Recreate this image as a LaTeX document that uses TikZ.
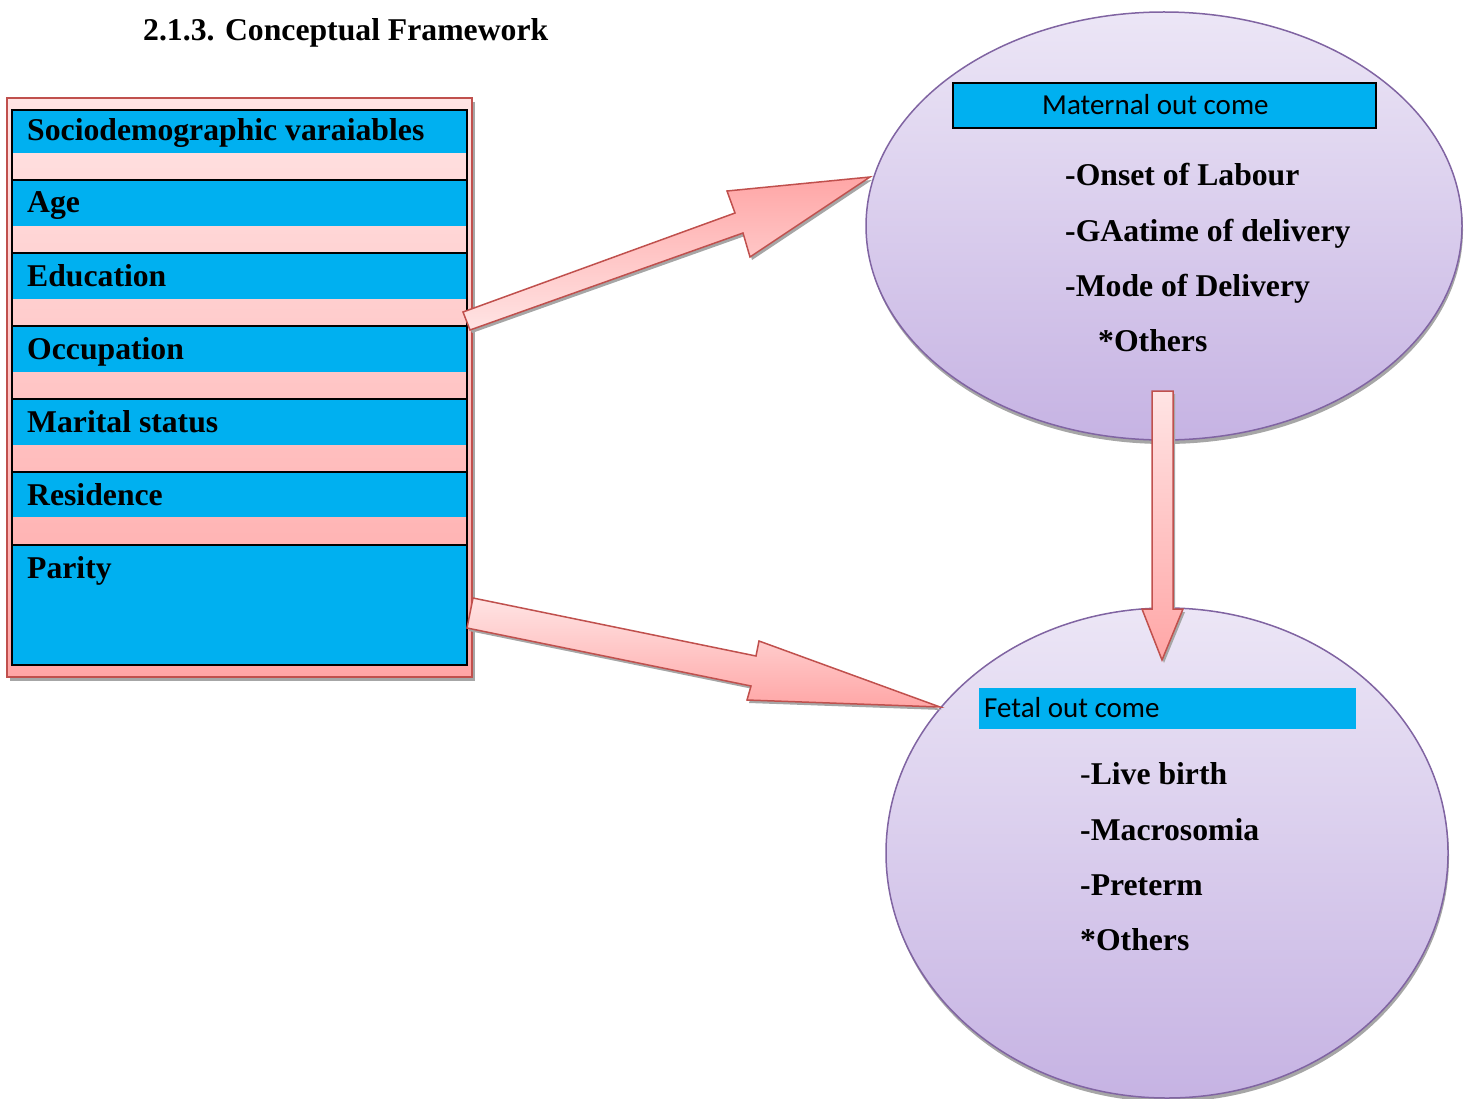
\documentclass[tikz,border=0pt]{standalone}
\usepackage{fontspec}
\setmainfont{Liberation Serif}
\newfontfamily\calfont{Carlito}
\usetikzlibrary{shapes.geometric}
\definecolor{sky}{HTML}{00B0F0}
\definecolor{redline}{HTML}{C0504D}
\definecolor{purpline}{HTML}{8064A2}
\definecolor{pinklight}{HTML}{FFE4E4}
\definecolor{pinkdark}{HTML}{FFA6A6}
\definecolor{lavlight}{HTML}{ECE6F6}
\definecolor{lavdark}{HTML}{C6B3E3}
\definecolor{shadowgray}{HTML}{A6A6A6}
\tikzset{
  lbl/.style={font=\fontsize{31.7}{38}\selectfont\bfseries, inner sep=0pt},
  clbl/.style={font=\calfont\fontsize{29}{34}\selectfont, inner sep=0pt},
  ell/.style={ellipse, draw=purpline, line width=1.5pt, top color=lavlight, bottom color=lavdark, inner sep=0pt},
  ellshadow/.style={ellipse, fill=shadowgray, inner sep=0pt},
  blockrow/.style={draw=black, line width=2.2pt},
  bluebar/.style={fill=sky},
  barrow/.style={draw=redline, line width=1.5pt, line join=miter},
  ashadow/.style={fill=shadowgray}
}
\begin{document}
\begin{tikzpicture}[x=1pt,y=-1pt]
\useasboundingbox (0,0) rectangle (1471,1099);

% title
\node[lbl, anchor=base west] (title) at (143,41) {2.1.3. Conceptual Framework};

% ---------- left panel ----------
\fill[shadowgray] (10,102) rectangle (475,681);
\shade[top color=pinklight, bottom color=pinkdark] (7,98) rectangle (472,677);
\draw[redline, line width=2pt] (7,98) rectangle (472,677);
\node[inner sep=0pt, minimum width=465pt, minimum height=579pt, anchor=north west] (panel) at (7,98) {};

\fill[bluebar] (12,110) rectangle (467,153);
\fill[bluebar] (12,180) rectangle (467,226);
\fill[bluebar] (12,253) rectangle (467,299);
\fill[bluebar] (12,326) rectangle (467,372);
\fill[bluebar] (12,399) rectangle (467,445);
\fill[bluebar] (12,472) rectangle (467,517);
\fill[bluebar] (12,545) rectangle (467,665);
\draw[blockrow] (12,110) rectangle (467,180);
\draw[blockrow] (12,180) rectangle (467,253);
\draw[blockrow] (12,253) rectangle (467,326);
\draw[blockrow] (12,326) rectangle (467,399);
\draw[blockrow] (12,399) rectangle (467,472);
\draw[blockrow] (12,472) rectangle (467,545);
\draw[blockrow] (12,545) rectangle (467,665);

\node[lbl, anchor=base west] (socio) at (27,141) {Sociodemographic varaiables};
\node[lbl, anchor=base west] (age) at (27,213) {Age};
\node[lbl, anchor=base west] (edu) at (27,286) {Education};
\node[lbl, anchor=base west] (occ) at (27,359) {Occupation};
\node[lbl, anchor=base west] (mar) at (27,432) {Marital status};
\node[lbl, anchor=base west] (res) at (27,505) {Residence};
\node[lbl, anchor=base west] (par) at (27,578) {Parity};

% ---------- maternal ellipse ----------
\node[ellshadow, minimum width=596pt, minimum height=428pt] at (1165,230) {};
\node[ell, minimum width=596pt, minimum height=428pt] (mat) at (1164,226) {};
\draw[fill=sky, draw=black, line width=2pt] (953,83) rectangle (1376,128);
\node[clbl, anchor=base west] (matt) at (1042,115) {Maternal out come};
\node[lbl, anchor=base west] (m1) at (1065,186) {-Onset of Labour};
\node[lbl, anchor=base west] (m2) at (1065,241) {-GAatime of delivery};
\node[lbl, anchor=base west] (m3) at (1065,296) {-Mode of Delivery};
\node[lbl, anchor=base west] (m4) at (1098,351) {*Others};

% ---------- fetal ellipse ----------
\node[ellshadow, minimum width=562pt, minimum height=490pt] at (1168,857) {};
\node[ell, minimum width=562pt, minimum height=490pt] (fet) at (1167,853) {};
\fill[sky] (979,688) rectangle (1356,729);
\node[clbl, anchor=base west] (fett) at (984,717) {Fetal out come};
\node[lbl, anchor=base west] (f1) at (1080,784) {\mdseries-\bfseries Live birth};
\node[lbl, anchor=base west] (f2) at (1080,840) {-Macrosomia};
\node[lbl, anchor=base west] (f3) at (1080,895) {-Preterm};
\node[lbl, anchor=base west] (f4) at (1080,950) {*Others};

% ---------- block arrows ----------
% panel -> maternal
\fill[ashadow, shift={(2,3)}] (463,312) -- (735,213) -- (727,191) -- (870,177) -- (750,257) -- (743,233) -- (470,330) -- cycle;
\shade[top color=pinkdark, bottom color=pinklight] (463,312) -- (735,213) -- (727,191) -- (870,177) -- (750,257) -- (743,233) -- (470,330) -- cycle;
\draw[barrow] (463,312) -- (735,213) -- (727,191) -- (870,177) -- (750,257) -- (743,233) -- (470,330) -- cycle;

% panel -> fetal
\fill[ashadow, shift={(2,3)}] (473,598) -- (756,656) -- (759,641) -- (940,707) -- (747,700) -- (751,686) -- (467,628) -- cycle;
\shade[top color=pinklight, bottom color=pinkdark] (473,598) -- (756,656) -- (759,641) -- (940,707) -- (747,700) -- (751,686) -- (467,628) -- cycle;
\draw[barrow] (473,598) -- (756,656) -- (759,641) -- (940,707) -- (747,700) -- (751,686) -- (467,628) -- cycle;

% maternal -> fetal
\fill[ashadow, shift={(2,3)}] (1152,391) -- (1173,391) -- (1173,609) -- (1183,609) -- (1162,660) -- (1142,609) -- (1152,609) -- cycle;
\shade[top color=pinklight, bottom color=pinkdark] (1152,391) -- (1173,391) -- (1173,609) -- (1183,609) -- (1162,660) -- (1142,609) -- (1152,609) -- cycle;
\draw[barrow] (1152,391) -- (1173,391) -- (1173,609) -- (1183,609) -- (1162,660) -- (1142,609) -- (1152,609) -- cycle;

\end{tikzpicture}
\end{document}
